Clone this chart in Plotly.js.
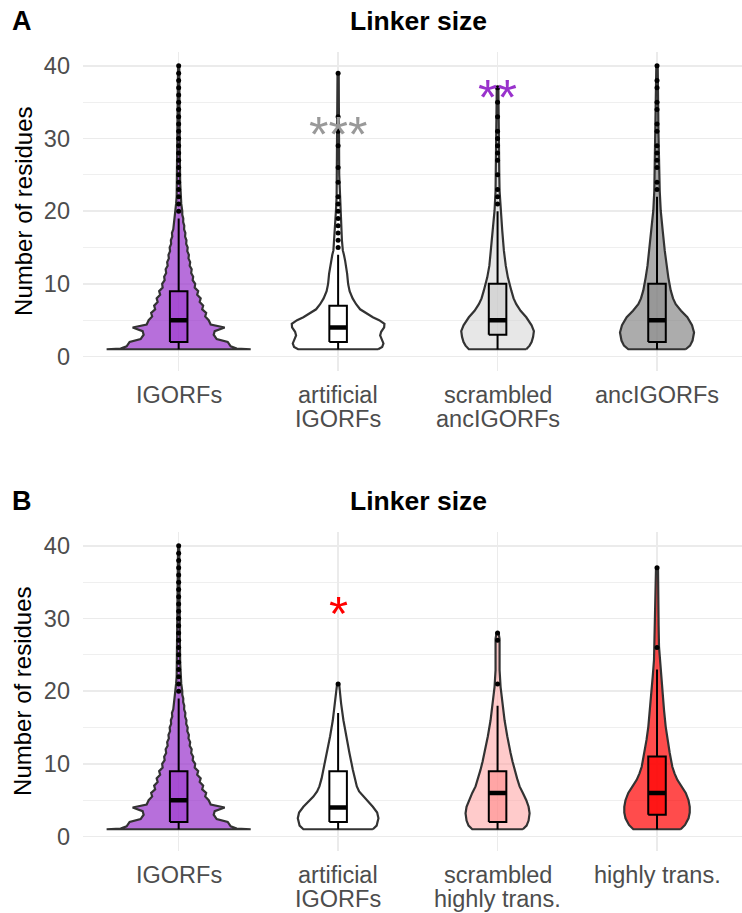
<!DOCTYPE html>
<html><head><meta charset="utf-8">
<script src="https://cdn.plot.ly/plotly-3.0.1.min.js"></script>
<style>html,body{margin:0;padding:0;background:#fff;}#chart{width:742px;height:913px;}</style>
</head><body><div id="chart"></div>
<script>
// ---------------- data ----------------
const catsA = ['IGORFs', 'artificial\nIGORFs', 'scrambled\nancIGORFs', 'ancIGORFs'];
const catsB = ['IGORFs', 'artificial\nIGORFs', 'scrambled\nhighly trans.', 'highly trans.'];
const yTicks = [0, 10, 20, 30, 40];

// violin density profiles (y value, relative half-width)
const igorfY = [1, 1.1, 1.4, 2, 2.4, 3, 3.5, 4, 4.4, 5, 5.5, 6, 6.5, 7, 7.5, 8, 8.5, 9, 9.5, 10, 10.5, 11, 11.5, 12, 12.5, 13, 13.5, 14, 14.5, 15, 15.5, 16, 16.5, 17, 17.5, 18, 18.5, 19, 19.5, 20, 21, 22, 24, 27, 30, 35, 40];
const igorfD = [72, 58, 52, 49, 38, 35, 36, 46, 32, 30, 26.5, 27.5, 23.5, 24.5, 21, 22, 18.5, 19.5, 16, 16.5, 14, 14.5, 12.5, 13, 11, 11.5, 9.8, 10.2, 8.6, 9, 7.5, 7.8, 6.4, 6.7, 5.4, 5.6, 4.5, 4.6, 3.6, 3.6, 2.6, 2, 1.5, 1.2, 1, 0.8, 0.6];

const artAY = [1, 1.3, 1.8, 2.4, 2.9, 3.4, 4, 4.5, 5, 5.4, 6, 6.5, 7.2, 8, 9, 10, 11.4, 12.5, 13.2, 14, 14.6, 16, 18.3, 20, 22, 25, 30, 35, 39];
const artAD = [40, 44, 45.3, 43.5, 42, 43, 46, 46.3, 41, 34.7, 28, 22, 18, 14.5, 11.5, 10, 9, 8, 7, 5.8, 4.7, 3.8, 3, 2.2, 1.5, 1.1, 0.9, 0.8, 0.6];

const scrAY = [1, 1.5, 2, 2.7, 3.5, 4.3, 5.4, 6.3, 7.2, 8, 9.1, 10, 10.9, 12.5, 14.6, 17.3, 20.1, 22.8, 25, 28, 31, 34, 37];
const scrAD = [28.7, 32, 34, 35.5, 36.3, 34, 28.7, 23, 18.7, 16, 13.7, 11.8, 10.3, 8.2, 6.3, 4.7, 3, 2, 1.7, 1.4, 1.3, 1.1, 0.8];

const ancY = [1, 1.5, 2.2, 3.3, 4.3, 5.4, 6.3, 7.2, 8, 9.1, 10.9, 12.5, 14.6, 17.3, 20.1, 22.8, 25.6, 28, 31, 34, 37, 40];
const ancD = [28.7, 33, 35.5, 37, 35, 30.3, 24, 18.7, 16, 13.7, 11.3, 9.5, 7.7, 5.7, 3.7, 2.7, 2, 1.6, 1.4, 1.2, 1, 0.7];

const artBY = [1, 1.5, 2.5, 3.3, 4.1, 4.8, 5.5, 6.2, 6.9, 8, 9.2, 11.5, 13.8, 16, 18.3, 19.7, 21];
const artBD = [34.7, 38.5, 40.3, 39, 34.7, 30, 24.7, 21, 18.7, 16.5, 14.7, 11.3, 8, 5.3, 3, 2, 1];

const scrBY = [1, 1.5, 2.2, 3.2, 4.1, 5, 6, 6.9, 8, 9.2, 10.3, 11.5, 12.6, 13.8, 16, 18.3, 20.6, 22.9, 25.2, 26.3, 27.2, 28];
const scrBD = [25.3, 29, 31, 32, 31, 28.7, 25.3, 22, 19.5, 17, 15, 13, 11.3, 9.7, 7, 4.7, 3, 2, 1.7, 1.9, 2, 1];

const hiY = [1, 1.6, 2.5, 3.3, 4.1, 5, 6, 6.9, 7.8, 8.7, 9.6, 11.5, 13.3, 15.1, 17.4, 19.7, 22, 24.3, 26.1, 29, 32, 35, 37];
const hiD = [23.7, 28, 31.5, 32.7, 32.7, 31.5, 28.7, 24.5, 20.3, 17.5, 15.3, 12.7, 10.5, 8.7, 7, 5.7, 4.3, 3, 2, 1.6, 1.5, 1.3, 1];

// box statistics per panel (order of categories)
const q1A = [2, 2, 3, 2], medA = [5, 4, 5, 5], q3A = [9, 7, 10, 10], lowA = [1, 1, 1, 1], upA = [19, 14, 20, 22];
const q1B = [2, 2, 2, 3], medB = [5, 4, 6, 6], q3B = [9, 9, 9, 11], lowB = [1, 1, 1, 1], upB = [19, 17, 18, 23];

// outliers
const outIGORF = [20, 21, 22, 23, 24, 25, 26, 27, 28, 29, 30, 31, 32, 33, 34, 35, 36, 37, 38, 39, 40];
const outArtA = [15, 16, 17, 18, 19, 20, 21, 22, 24, 26, 29, 31, 33, 39];
const outScrA = [21, 22, 23, 25, 27, 28, 29, 30, 31, 33, 35, 37];
const outAnc = [23, 24, 26, 27, 28, 29, 31, 32, 34, 35, 37, 38, 40];
const outArtB = [21];
const outScrB = [21, 27, 28];
const outHi = [26, 37];

// significance marks
const sigA = [{cat: 2, y: 30.5, text: '***', color: '#999999'}, {cat: 3, y: 35.6, text: '**', color: '#9932CC'}];
const sigB = [{cat: 2, y: 30.8, text: '*', color: '#FF0000'}];

// ---------------- drawing ----------------
const PX_PER_CAT = 159.33;
const BOXW = 0.11;
const traces = [];
const FONT = 'Liberation Sans, Arial, Helvetica, sans-serif';

function violin(c, ys, ds, fill, xa, ya) {
  const xs = [], yy = [];
  for (let i = 0; i < ys.length; i++) { xs.push(c + ds[i] / PX_PER_CAT); yy.push(ys[i]); }
  for (let i = ys.length - 1; i >= 0; i--) { xs.push(c - ds[i] / PX_PER_CAT); yy.push(ys[i]); }
  xs.push(xs[0]); yy.push(yy[0]);
  traces.push({type: 'scatter', mode: 'lines', x: xs, y: yy, fill: 'toself', fillcolor: fill,
    line: {color: '#333333', width: 2.2}, xaxis: xa, yaxis: ya, hoverinfo: 'skip'});
}
function box(c, q1, med, q3, lo, up, fill, xa, ya) {
  const l = c - BOXW / 2, r = c + BOXW / 2;
  traces.push({type: 'scatter', mode: 'lines', x: [c, c, null, c, c], y: [lo, q1, null, q3, up],
    line: {color: '#000000', width: 2}, xaxis: xa, yaxis: ya, hoverinfo: 'skip'});
  traces.push({type: 'scatter', mode: 'lines', x: [l, r, r, l, l], y: [q1, q1, q3, q3, q1],
    fill: 'toself', fillcolor: fill, line: {color: '#000000', width: 2}, xaxis: xa, yaxis: ya, hoverinfo: 'skip'});
  traces.push({type: 'scatter', mode: 'lines', x: [l, r], y: [med, med],
    line: {color: '#000000', width: 4.5}, xaxis: xa, yaxis: ya, hoverinfo: 'skip'});
}
function outliers(c, vals, xa, ya) {
  traces.push({type: 'scatter', mode: 'markers', x: vals.map(() => c), y: vals,
    marker: {color: '#000000', size: 5}, xaxis: xa, yaxis: ya, hoverinfo: 'skip'});
}

const fillsA = ['rgba(153,50,204,0.7)', 'rgba(255,255,255,1)', 'rgba(211,211,211,0.55)', 'rgba(128,128,128,0.65)'];
const boxFillA = ['rgba(153,50,204,0.55)', 'rgba(255,255,255,1)', 'rgba(190,190,190,0.4)', 'rgba(128,128,128,0.45)'];
const fillsB = ['rgba(153,50,204,0.7)', 'rgba(255,255,255,1)', 'rgba(255,160,160,0.55)', 'rgba(255,0,0,0.7)'];
const boxFillB = ['rgba(153,50,204,0.55)', 'rgba(255,255,255,1)', 'rgba(255,120,120,0.45)', 'rgba(255,0,0,0.7)'];

const violA = [[igorfY, igorfD], [artAY, artAD], [scrAY, scrAD], [ancY, ancD]];
const violB = [[igorfY, igorfD], [artBY, artBD], [scrBY, scrBD], [hiY, hiD]];
const outsA = [outIGORF, outArtA, outScrA, outAnc];
const outsB = [outIGORF, outArtB, outScrB, outHi];

for (let i = 0; i < 4; i++) {
  violin(i + 1, violA[i][0], violA[i][1], fillsA[i], 'x', 'y');
  box(i + 1, q1A[i], medA[i], q3A[i], lowA[i], upA[i], boxFillA[i], 'x', 'y');
  outliers(i + 1, outsA[i], 'x', 'y');
  violin(i + 1, violB[i][0], violB[i][1], fillsB[i], 'x2', 'y2');
  box(i + 1, q1B[i], medB[i], q3B[i], lowB[i], upB[i], boxFillB[i], 'x2', 'y2');
  outliers(i + 1, outsB[i], 'x2', 'y2');
}

const W = 742, H = 913;
const left = 83 / W;
const domA = [(H - 370.7) / H, (H - 51.7) / H];
const domB = [(H - 850.7) / H, (H - 531.7) / H];

function xax(anchor) {
  return {domain: [left, 1], range: [0.4, 4.533], tickmode: 'array', tickvals: [1, 2, 3, 4],
    showticklabels: false, showgrid: true, gridcolor: '#EBEBEB', gridwidth: 1.6, zeroline: false, showline: false,
    ticks: '', anchor: anchor, fixedrange: true};
}
function yax(dom, anchor) {
  return {domain: dom, range: [-1.95, 41.95], tickmode: 'array', tickvals: yTicks,
    showgrid: true, gridcolor: '#EBEBEB', gridwidth: 1.6, zeroline: false, showline: false, ticks: '',
    minor: {tickmode: 'array', tickvals: [5, 15, 25, 35], showgrid: true, gridcolor: '#EBEBEB', gridwidth: 0.8, ticks: ''},
    tickfont: {family: FONT, size: 23.5, color: '#4D4D4D'}, anchor: anchor, ticklabelstandoff: 12, fixedrange: true};
}

const annotations = [];
function panelText(letter, yPx, dom) {
  annotations.push({xref: 'paper', yref: 'paper', x: 22 / W, y: 1 - yPx / H, text: '<b>' + letter + '</b>',
    showarrow: false, xanchor: 'center', yanchor: 'middle', font: {family: FONT, size: 27, color: '#000'}});
  annotations.push({xref: 'paper', yref: 'paper', x: 418 / W, y: 1 - yPx / H, text: '<b>Linker size</b>',
    showarrow: false, xanchor: 'center', yanchor: 'middle', font: {family: FONT, size: 26.5, color: '#000'}});
  annotations.push({xref: 'paper', yref: 'paper', x: 22.7 / W, y: (dom[0] + dom[1]) / 2, text: 'Number of residues',
    textangle: -90, showarrow: false, xanchor: 'center', yanchor: 'middle', font: {family: FONT, size: 24, color: '#000'}});
}
// category labels (one text per line, ggplot-style tight line spacing)
function catLabels(cats, xref, firstLinePx) {
  cats.forEach((lab, i) => {
    lab.split('\n').forEach((line, j) => {
      annotations.push({xref: xref, yref: 'paper', x: i + 1, y: 1 - (firstLinePx + j * 23.8) / H, text: line,
        showarrow: false, xanchor: 'center', yanchor: 'middle', font: {family: FONT, size: 23.5, color: '#4D4D4D'}});
    });
  });
}
panelText('A', 21, domA);
panelText('B', 501, domB);
catLabels(catsA, 'x', 395);
catLabels(catsB, 'x2', 875);
sigA.forEach(s => annotations.push({xref: 'x', yref: 'y', x: s.cat, y: s.y, text: s.text, showarrow: false,
  xanchor: 'center', yanchor: 'middle', font: {family: FONT, size: 50, color: s.color}}));
sigB.forEach(s => annotations.push({xref: 'x2', yref: 'y2', x: s.cat, y: s.y, text: s.text, showarrow: false,
  xanchor: 'center', yanchor: 'middle', font: {family: FONT, size: 49, color: s.color}}));

const layout = {
  width: W, height: H, margin: {l: 0, r: 0, t: 0, b: 0}, showlegend: false,
  paper_bgcolor: '#FFFFFF', plot_bgcolor: '#FFFFFF', font: {family: FONT},
  xaxis: xax('y'), yaxis: yax(domA, 'x'),
  xaxis2: xax('y2'), yaxis2: yax(domB, 'x2'),
  annotations: annotations
};
Plotly.newPlot('chart', traces, layout, {displayModeBar: false, staticPlot: true});
</script></body></html>
